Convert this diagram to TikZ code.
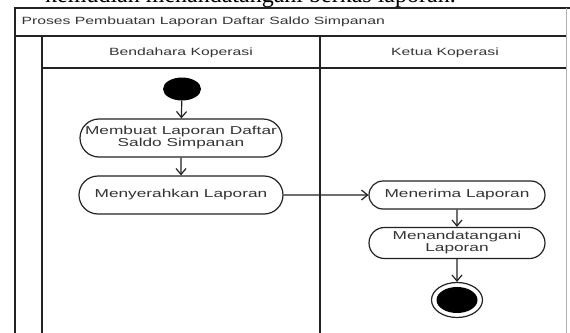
\documentclass[tikz,border=0pt]{standalone}
\usepackage{fontspec}
\usepackage{xcolor}
\usepackage{tikz}
\usetikzlibrary{arrows.meta,positioning,shapes.geometric,shapes.misc}
\newfontfamily\lanefont[FakeStretch=1.5]{Liberation Sans}
\newfontfamily\docfont{Liberation Serif}
\definecolor{umlink}{HTML}{222222}
\definecolor{umltext}{HTML}{333333}
\tikzset{
  frameline/.style={draw=umlink, line width=1.5pt},
  lanehead/.style={font=\lanefont\fontsize{10.5}{12}\selectfont, text=umltext},
  activity/.style={draw=umlink, rounded rectangle, line width=1.2pt, align=center, inner sep=2pt, font=\lanefont\fontsize{11.5}{12}\selectfont, text=umltext},
  startnode/.style={ellipse, fill=black, minimum width=38pt, minimum height=23pt, inner sep=0pt},
  endnode/.style={ellipse, draw=umlink, line width=1.2pt, minimum width=51pt, minimum height=35pt, inner sep=0pt,
    path picture={\fill[black] (path picture bounding box.center) ellipse (20.5pt and 13pt);}},
  flow/.style={-{Straight Barb[length=6pt,width=10pt]}, line width=1.2pt, umlink}
}

\begin{document}
\begin{tikzpicture}[x=1pt,y=-1pt]
  \useasboundingbox (0,0) rectangle (570,332);
  \clip (0,0) rectangle (570,332);

  % Text of the page above the figure
  \node[anchor=base west, inner sep=0pt, font=\docfont\fontsize{24}{26}\selectfont] (pagetext) at (45,2.5) {kemudian menandatangani berkas laporan.};

  % Frame and swimlanes
  \draw[frameline] (15,345) -- (15,8) -- (570,8);
  \draw[gray!60, line width=0.8pt] (566,8) -- (566,345);
  \draw[frameline] (15,36) -- (566,36);
  \draw[frameline] (42,36) -- (42,345);
  \draw[frameline] (42,68) -- (566,68);
  \draw[frameline] (320,36) -- (320,345);
  \node[anchor=west, lanehead] (title) at (18,22) {Proses Pembuatan Laporan Daftar Saldo Simpanan};
  \node[lanehead] (bendahara) at (181,53) {Bendahara Koperasi};
  \node[lanehead] (ketua) at (445,53) {Ketua Koperasi};

  % Bendahara Koperasi
  \node[startnode] (start) at (182,89) {};
  \node[activity, minimum width=206pt, minimum height=38pt] (membuat) at (181,138) {Membuat Laporan Daftar\\Saldo Simpanan};
  \node[activity, minimum width=208pt, minimum height=38pt] (menyerahkan) at (181,195) {Menyerahkan Laporan};

  % Ketua Koperasi
  \node[activity, minimum width=180pt, minimum height=28pt] (menerima) at (457,195) {Menerima Laporan};
  \node[activity, minimum width=180pt, minimum height=31pt] (menandatangani) at (457,243) {Menandatangani\\Laporan};
  \node[endnode] (end) at (457,300) {};

  % Flows
  \draw[flow] (start) -- (membuat);
  \draw[flow] (membuat) -- (menyerahkan);
  \draw[flow] (menyerahkan) -- (menerima);
  \draw[flow] (menerima) -- (menandatangani);
  \draw[flow] (menandatangani) -- (end);
\end{tikzpicture}
\end{document}
